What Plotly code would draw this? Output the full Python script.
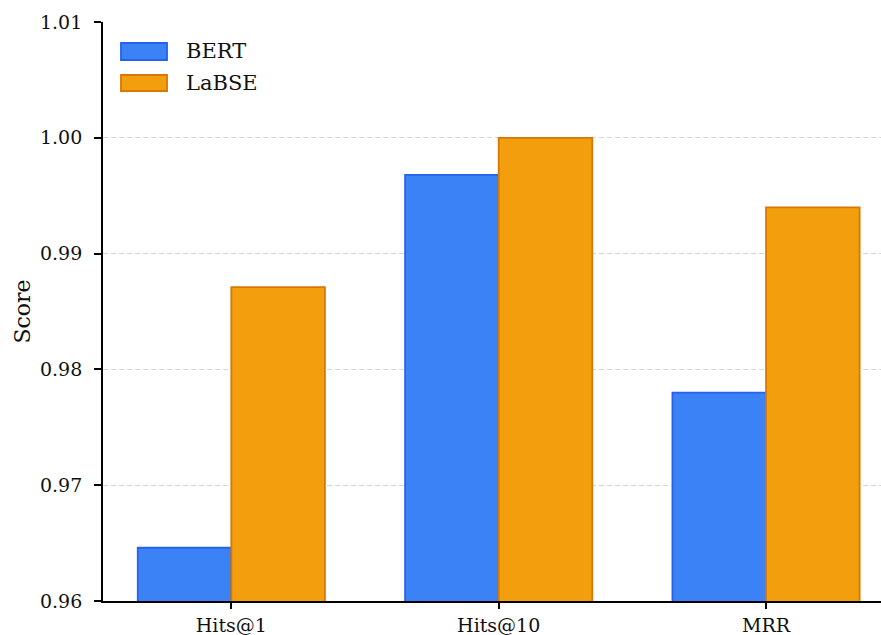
import plotly.graph_objects as go

categories = ["Hits@1", "Hits@10", "MRR"]
bert = [0.9646, 0.9968, 0.9780]
labse = [0.9871, 1.0000, 0.9940]
y_ticks = [0.96, 0.97, 0.98, 0.99, 1.00, 1.01]

series_names = ["BERT", "LaBSE"]
fills = ["#3b82f6", "#f39e0c"]
edges = ["#2563eb", "#d97706"]

FONT = "DejaVu Serif"
TXT = "#111111"

fig = go.Figure()
for name, vals, fc, ec in zip(series_names, [bert, labse], fills, edges):
    fig.add_trace(go.Bar(
        name=name, x=categories, y=vals, showlegend=False,
        marker=dict(color=fc, line=dict(color=ec, width=1.8)),
    ))

# custom legend (wide rectangular swatches like the reference)
legend_rows = [(0.9637, 0.9344, 0.9499), (0.9085, 0.8808, 0.8946)]
for (y1, y0, yt), name, fc, ec in zip(legend_rows, series_names, fills, edges):
    fig.add_shape(type="rect", xref="paper", yref="paper",
                  x0=0.0231, x1=0.0823, y0=y0, y1=y1,
                  fillcolor=fc, line=dict(color=ec, width=1.8))
    fig.add_annotation(xref="paper", yref="paper", x=0.1041, y=yt,
                       text=name, showarrow=False, xanchor="left", yanchor="middle",
                       font=dict(family=FONT, size=21, color=TXT))

fig.update_layout(
    barmode="group",
    bargap=0.3,
    bargroupgap=0,
    width=881, height=635,
    margin=dict(l=103, r=0, t=22, b=34),
    plot_bgcolor="white", paper_bgcolor="white",
    font=dict(family=FONT, size=19, color=TXT),
    showlegend=False,
)
fig.update_xaxes(
    range=[-0.48, 2.43],
    automargin=False,
    showline=True, linecolor="black", linewidth=1.8,
    ticks="outside", ticklen=6, tickwidth=1.5, tickcolor="black",
    showgrid=False, zeroline=False,
    tickfont=dict(family=FONT, size=19, color=TXT),
    ticklabelstandoff=0,
)
fig.update_yaxes(
    range=[0.96, 1.01],
    automargin=False,
    tickvals=y_ticks, tickformat=".2f",
    showline=True, linecolor="black", linewidth=1.8,
    ticks="outside", ticklen=7, tickwidth=1.5, tickcolor="black",
    showgrid=True, gridcolor="#d6d6d6", gridwidth=1, griddash="5px,3px",
    zeroline=False,
    title=dict(text="Score", font=dict(family=FONT, size=22, color=TXT), standoff=3),
    tickfont=dict(family=FONT, size=19, color=TXT),
    ticklabelstandoff=8,
)

fig.write_html("out.html")
